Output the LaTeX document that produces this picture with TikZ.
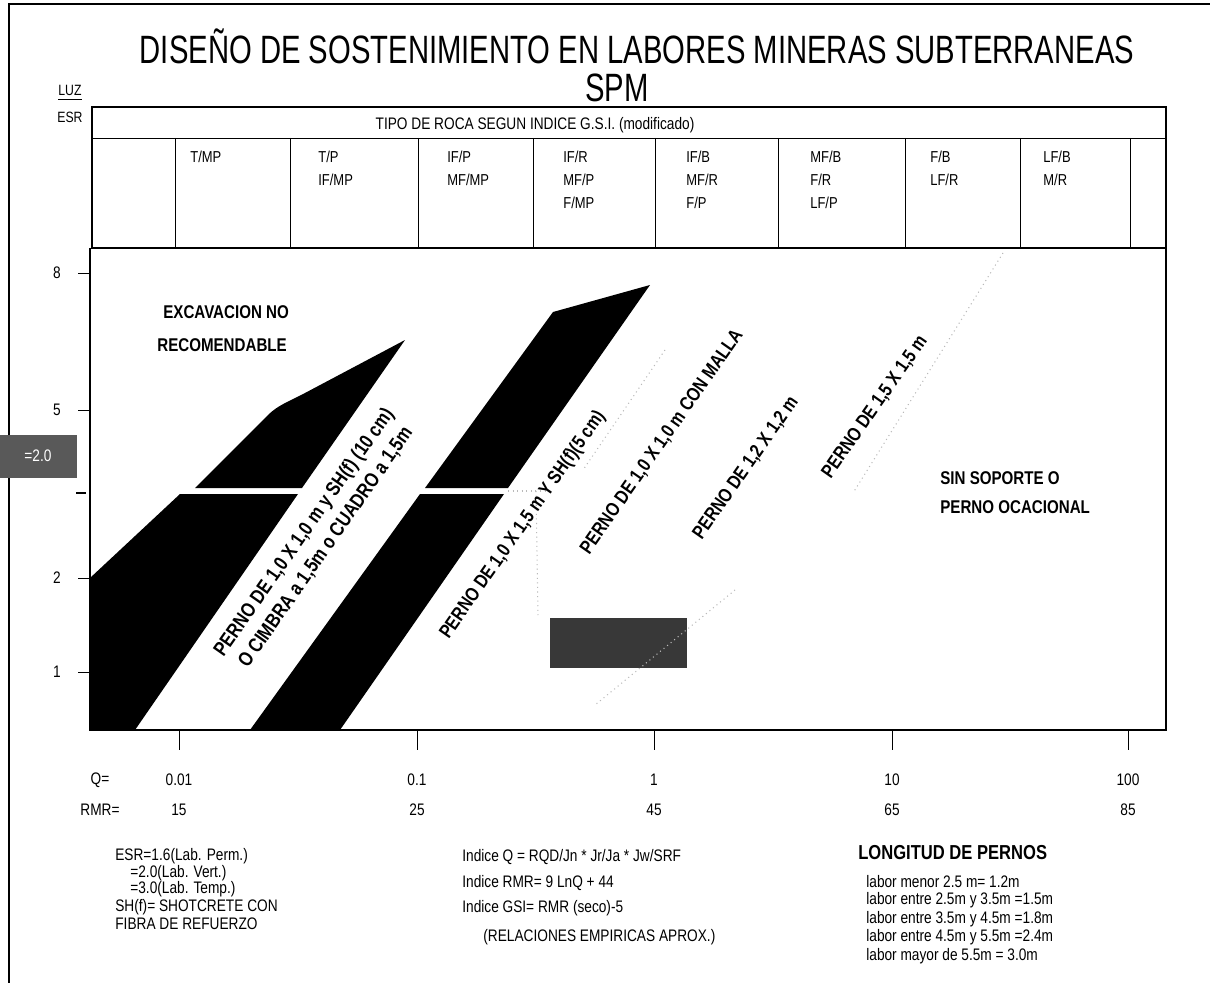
\documentclass[tikz,border=0pt]{standalone}
\usepackage{fontspec}
\setmainfont{Liberation Sans}
\newfontfamily\narrow[FakeStretch=0.82]{Liberation Sans}
\newfontfamily\tnarrow[FakeStretch=0.74]{Liberation Sans}
\usetikzlibrary{calc, positioning}

\begin{document}
\begin{tikzpicture}[x=0.02cm, y=-0.02cm, every node/.style={inner sep=0pt, font=\narrow},
  celltxt/.style={anchor=north west, align=left, font=\narrow\fontsize{9}{13}\selectfont},
  axtxt/.style={font=\narrow\fontsize{9.5}{11}\selectfont},
  zona/.style={anchor=west, font=\narrow\bfseries\fontsize{10.5}{12}\selectfont},
  perno/.style={align=center, rotate=55, font=\narrow\bfseries\fontsize{11}{15}\selectfont},
  nota/.style={anchor=west, font=\narrow\fontsize{9.5}{11}\selectfont},
  band/.style={fill=black, draw=none},
  faint/.style={gray!55, dotted, line width=0.6pt}]

\useasboundingbox (0,0) rectangle (1210,983);

% Frame
\draw[line width=1pt] (9,983) -- (9,4) -- (1210,4);

% Title
\node (title) at (637,46) {\tnarrow\fontsize{22.5}{26}\selectfont DISEÑO DE SOSTENIMIENTO EN LABORES MINERAS SUBTERRANEAS};
\node (spm) at (617,88) {\tnarrow\fontsize{22.5}{26}\selectfont SPM};
\node (luz) at (70,90) {\fontsize{8.5}{10}\selectfont LUZ};
\draw (luz.south west) ++(0,4) -- ++(24,0);
\node (esr) at (70,117) {\fontsize{8.5}{10}\selectfont ESR};

% Table of rock types
\draw[line width=0.8pt] (92,107) rectangle (1166,248);
\draw (92,138) -- (1166,138);
\foreach \x in {175,290,418,533,655,778,905,1020,1130}
  \draw (\x,138) -- (\x,248);
\node (gsi) at (535,125) {\fontsize{9.5}{11}\selectfont TIPO DE ROCA SEGUN INDICE G.S.I. (modificado)};
\node[celltxt] (c1) at (190,151) {T/MP};
\node[celltxt] (c2) at (318,151) {T/P\\IF/MP};
\node[celltxt] (c3) at (447,151) {IF/P\\MF/MP};
\node[celltxt] (c4) at (563,151) {IF/R\\MF/P\\F/MP};
\node[celltxt] (c5) at (686,151) {IF/B\\MF/R\\F/P};
\node[celltxt] (c6) at (810,151) {MF/B\\F/R\\LF/P};
\node[celltxt] (c7) at (930,151) {F/B\\LF/R};
\node[celltxt] (c8) at (1043,151) {LF/B\\M/R};

% Support zones
\fill[band] (195,488) -- (268,415) .. controls (278,405) and (290,401) .. (305,393) -- (405,340) -- (302,488) -- cycle;
\fill[band] (180,494) -- (90,578) -- (90,730) -- (135,730) -- (298,494) -- cycle;
\fill[band] (425,488) -- (553,312) -- (650,285) -- (508,488) -- cycle;
\fill[band] (420,494) -- (504,494) -- (340,730) -- (250,730) -- cycle;
\fill[black!78] (550,618) rectangle (687,668);
\draw[faint] (1003,253) -- (853,493);
\draw[faint] (735,590) -- (595,705);
\draw[faint] (665,350) -- (583,470);
\draw[faint] (508,491) -- (545,491);
\draw[faint] (536,491) -- (538,615);

% Axes
\draw[line width=0.8pt] (90,248) -- (90,730) -- (1166,730) -- (1166,248);
\foreach \y/\v in {273/8, 410/5, 578/2, 672/1} {
  \draw (78,\y) -- (90,\y);
  \node[axtxt] at (57,\y) {\v};
}
\draw[line width=1.2pt] (76,493) -- (86,493);
\fill[black!65] (0,435) rectangle (77,478);
\node[axtxt, text=white] (esrbox) at (38,456) {=2.0};
\foreach \x in {179,417,654,892,1128}
  \draw (\x,730) -- (\x,750);
\node[axtxt] (qlab) at (100,780) {Q=};
\foreach \x/\v in {179/0.01, 417/0.1, 654/1, 892/10, 1128/100}
  \node[axtxt] at (\x,780) {\v};
\node[axtxt] (rmrlab) at (100,810) {RMR=};
\foreach \x/\v in {179/15, 417/25, 654/45, 892/65, 1128/85}
  \node[axtxt] at (\x,810) {\v};

% Zone labels
\node[zona] (exc1) at (163,312) {EXCAVACION NO};
\node[zona] (exc2) at (157,345) {RECOMENDABLE};
\node[zona] (sin1) at (940,478) {SIN SOPORTE O};
\node[zona] (sin2) at (940,507) {PERNO OCACIONAL};
\node[perno, font=\narrow\bfseries\fontsize{11.5}{15}\selectfont] (p1) at (315,540) {PERNO DE 1,0 X 1,0 m y SH(f) (10 cm)\\O CIMBRA a 1,5m o CUADRO a 1,5m};
\node[perno] (p2) at (523,525) {PERNO DE 1,0 X 1,5 m Y SH(f)(5 cm)};
\node[perno] (p3) at (662,442) {PERNO DE 1,0 X 1,0 m CON MALLA};
\node[perno] (p4) at (746,468) {PERNO DE 1,2 X 1,2 m};
\node[perno] (p5) at (875,407) {PERNO DE 1,5 X 1,5 m};

% Notes
\node[nota] (esr1) at (115,856) {ESR=1.6(Lab. Perm.)};
\node[nota] (esr2) at (130,873) {=2.0(Lab. Vert.)};
\node[nota] (esr3) at (130,889) {=3.0(Lab. Temp.)};
\node[nota] (sh1) at (115,907) {SH(f)= SHOTCRETE CON};
\node[nota] (sh2) at (115,924) {FIBRA DE REFUERZO};
\node[nota] (iq) at (462,857) {Indice Q = RQD/Jn * Jr/Ja * Jw/SRF};
\node[nota] (irmr) at (462,883) {Indice RMR= 9 LnQ + 44};
\node[nota] (igsi) at (462,908) {Indice GSI= RMR (seco)-5};
\node[nota] (emp) at (483,937) {(RELACIONES EMPIRICAS APROX.)};
\node[anchor=west, font=\narrow\bfseries\fontsize{11.5}{13}\selectfont] (long) at (858,853) {LONGITUD DE PERNOS};
\node[nota] (l1) at (866,882) {labor menor 2.5 m= 1.2m};
\node[nota] (l2) at (866,900) {labor entre 2.5m y 3.5m =1.5m};
\node[nota] (l3) at (866,919) {labor entre 3.5m y 4.5m =1.8m};
\node[nota] (l4) at (866,937) {labor entre 4.5m y 5.5m =2.4m};
\node[nota] (l5) at (866,956) {labor mayor de 5.5m = 3.0m};
\end{tikzpicture}
\end{document}
